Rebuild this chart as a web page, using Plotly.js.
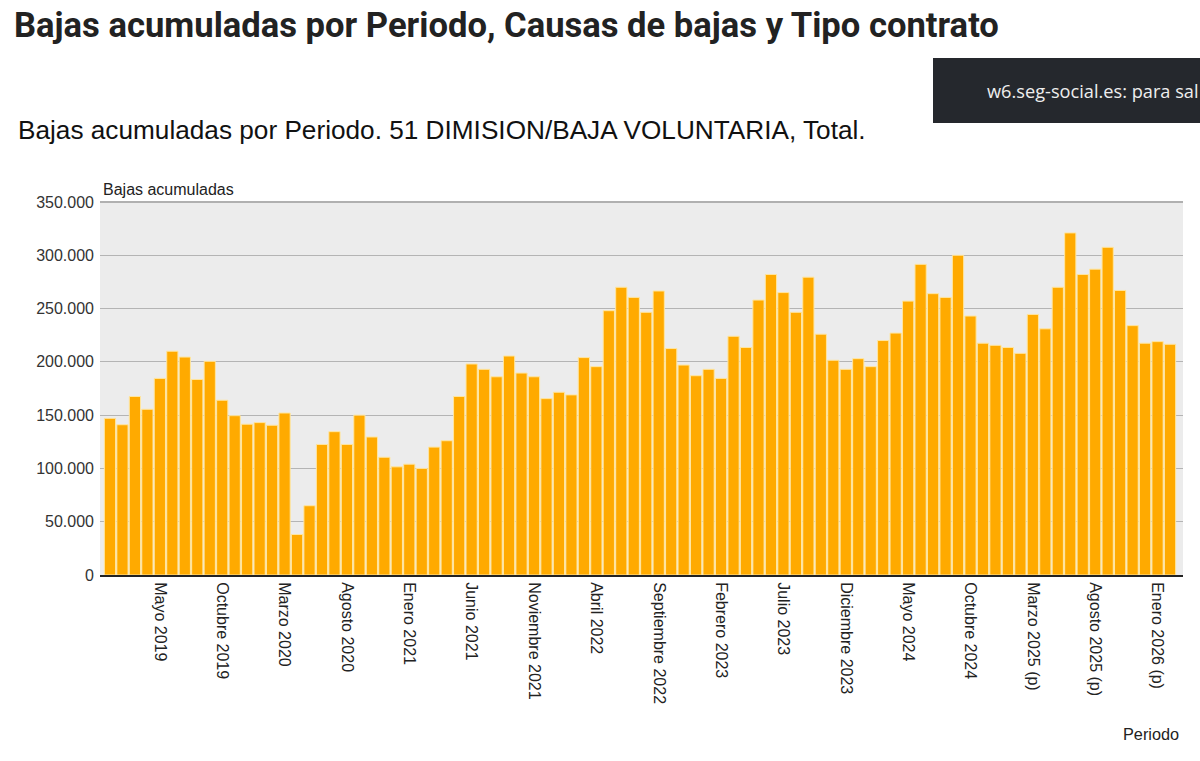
<!DOCTYPE html>
<html>
<head>
<meta charset="utf-8">
<script src="https://cdn.plot.ly/plotly-3.0.1.min.js"></script>
<style>
html,body{margin:0;padding:0;background:#fff;}
#chart{width:1200px;height:761px;}
</style>
</head>
<body>
<div id="chart"></div>
<script>
const monthNames = ["Enero","Febrero","Marzo","Abril","Mayo","Junio","Julio","Agosto","Septiembre","Octubre","Noviembre","Diciembre"];
const years = [2019,2020,2021,2022,2023,2024,2025,2026];
const provisionalFrom = 2025;
const periodCount = 86;

const bajas = [
  147000,141000,167500,155500,184500,210000,204500,183500,200500,164000,
  149500,141500,143000,140500,152000,38000,65000,122500,134500,122500,
  150000,129500,110500,101500,104000,100000,120000,126000,167500,198000,
  193000,186000,205500,189500,186000,165500,171500,169000,204000,195500,
  248000,270000,260500,246500,266500,212500,197000,187000,193000,184500,
  224000,213500,258000,282000,265000,246500,279500,226000,201500,193000,
  203000,195500,220000,227000,257000,291500,264000,260500,300000,243000,
  217500,215500,213500,208000,244500,231000,270000,321000,282000,287000,
  307500,267000,234000,217500,219000,216500
];

const periodos = [];
for (const y of years) {
  for (const m of monthNames) {
    if (periodos.length < periodCount) {
      periodos.push(m + " " + y + (y >= provisionalFrom ? " (p)" : ""));
    }
  }
}
const tickLabels = periodos.filter((p, i) => i % 5 === 4);

const trace = {
  type: "bar",
  x: periodos,
  y: bajas,
  marker: {color: "#ffaa00", line: {color: "#ffe6a0", width: 1}},
  hoverinfo: "x+y"
};

const layout = {
  width: 1200,
  height: 761,
  margin: {l: 100, r: 17, t: 202, b: 186, pad: 0},
  paper_bgcolor: "#ffffff",
  plot_bgcolor: "#ececec",
  separators: ",.",
  bargap: 0.1,
  showlegend: false,
  font: {family: "Liberation Sans, Arial, sans-serif", color: "#222"},
  xaxis: {
    type: "category",
    range: [-0.8, 86.04],
    tickmode: "array",
    tickvals: tickLabels,
    ticktext: tickLabels,
    tickangle: 90,
    ticks: "",
    ticklabelstandoff: 2,
    tickfont: {size: 16, color: "#222"},
    showgrid: false,
    showline: true,
    linecolor: "#222",
    linewidth: 2,
    zeroline: false,
    fixedrange: true
  },
  yaxis: {
    range: [0, 350000],
    tickvals: [0,50000,100000,150000,200000,250000,300000,350000],
    tickformat: ",d",
    tickfont: {size: 16, color: "#333"},
    ticks: "",
    ticklabelstandoff: 5,
    showgrid: true,
    gridcolor: "#b4b4b4",
    gridwidth: 1,
    zeroline: false,
    showline: false,
    fixedrange: true
  },
  shapes: [
    {type: "rect", xref: "paper", yref: "paper", x0: 0, x1: 1, y0: 1, y1: 1,
     line: {color: "#b0b0b0", width: 2}},
    {type: "rect", xref: "paper", yref: "paper",
     x0: (933 - 100) / 1083, x1: (1200 - 100) / 1083,
     y0: 1 + (202 - 123) / 373, y1: 1 + (202 - 58) / 373,
     fillcolor: "#25282d", line: {width: 0}, layer: "above"}
  ],
  annotations: [
    {text: "<b>Bajas acumuladas por Periodo, Causas de bajas y Tipo contrato</b>",
     xref: "paper", yref: "paper",
     x: -88 / 1083, y: 1 + (202 - 25) / 373, xanchor: "left", yanchor: "middle",
     showarrow: false,
     font: {family: "Roboto, sans-serif", size: 34.6, color: "#222"}},
    {text: "Bajas acumuladas por Periodo. 51 DIMISION/BAJA VOLUNTARIA, Total.",
     xref: "paper", yref: "paper",
     x: -84 / 1083, y: 1 + (202 - 130) / 373, xanchor: "left", yanchor: "middle",
     showarrow: false,
     font: {family: "Liberation Sans, Arial, sans-serif", size: 26.2, color: "#111"}},
    {text: "w6.seg-social.es: para sal",
     xref: "paper", yref: "paper",
     x: (985 - 100) / 1083, y: 1 + (202 - 91) / 373, xanchor: "left", yanchor: "middle",
     showarrow: false,
     font: {family: "Open Sans, Noto Sans, sans-serif", size: 18.2, color: "#eeeeee"}},
    {text: "Bajas acumuladas",
     xref: "paper", yref: "paper",
     x: 1 / 1083, y: 1 + (202 - 189) / 373, xanchor: "left", yanchor: "middle",
     showarrow: false,
     font: {family: "Liberation Sans, Arial, sans-serif", size: 16, color: "#222"}},
    {text: "Periodo",
     xref: "paper", yref: "paper",
     x: (1181 - 100) / 1083, y: -(734 - 575) / 373, xanchor: "right", yanchor: "middle",
     showarrow: false,
     font: {family: "Liberation Sans, Arial, sans-serif", size: 16.3, color: "#222"}}
  ]
};

Plotly.newPlot("chart", [trace], layout, {displayModeBar: false, staticPlot: true});
</script>
</body>
</html>
